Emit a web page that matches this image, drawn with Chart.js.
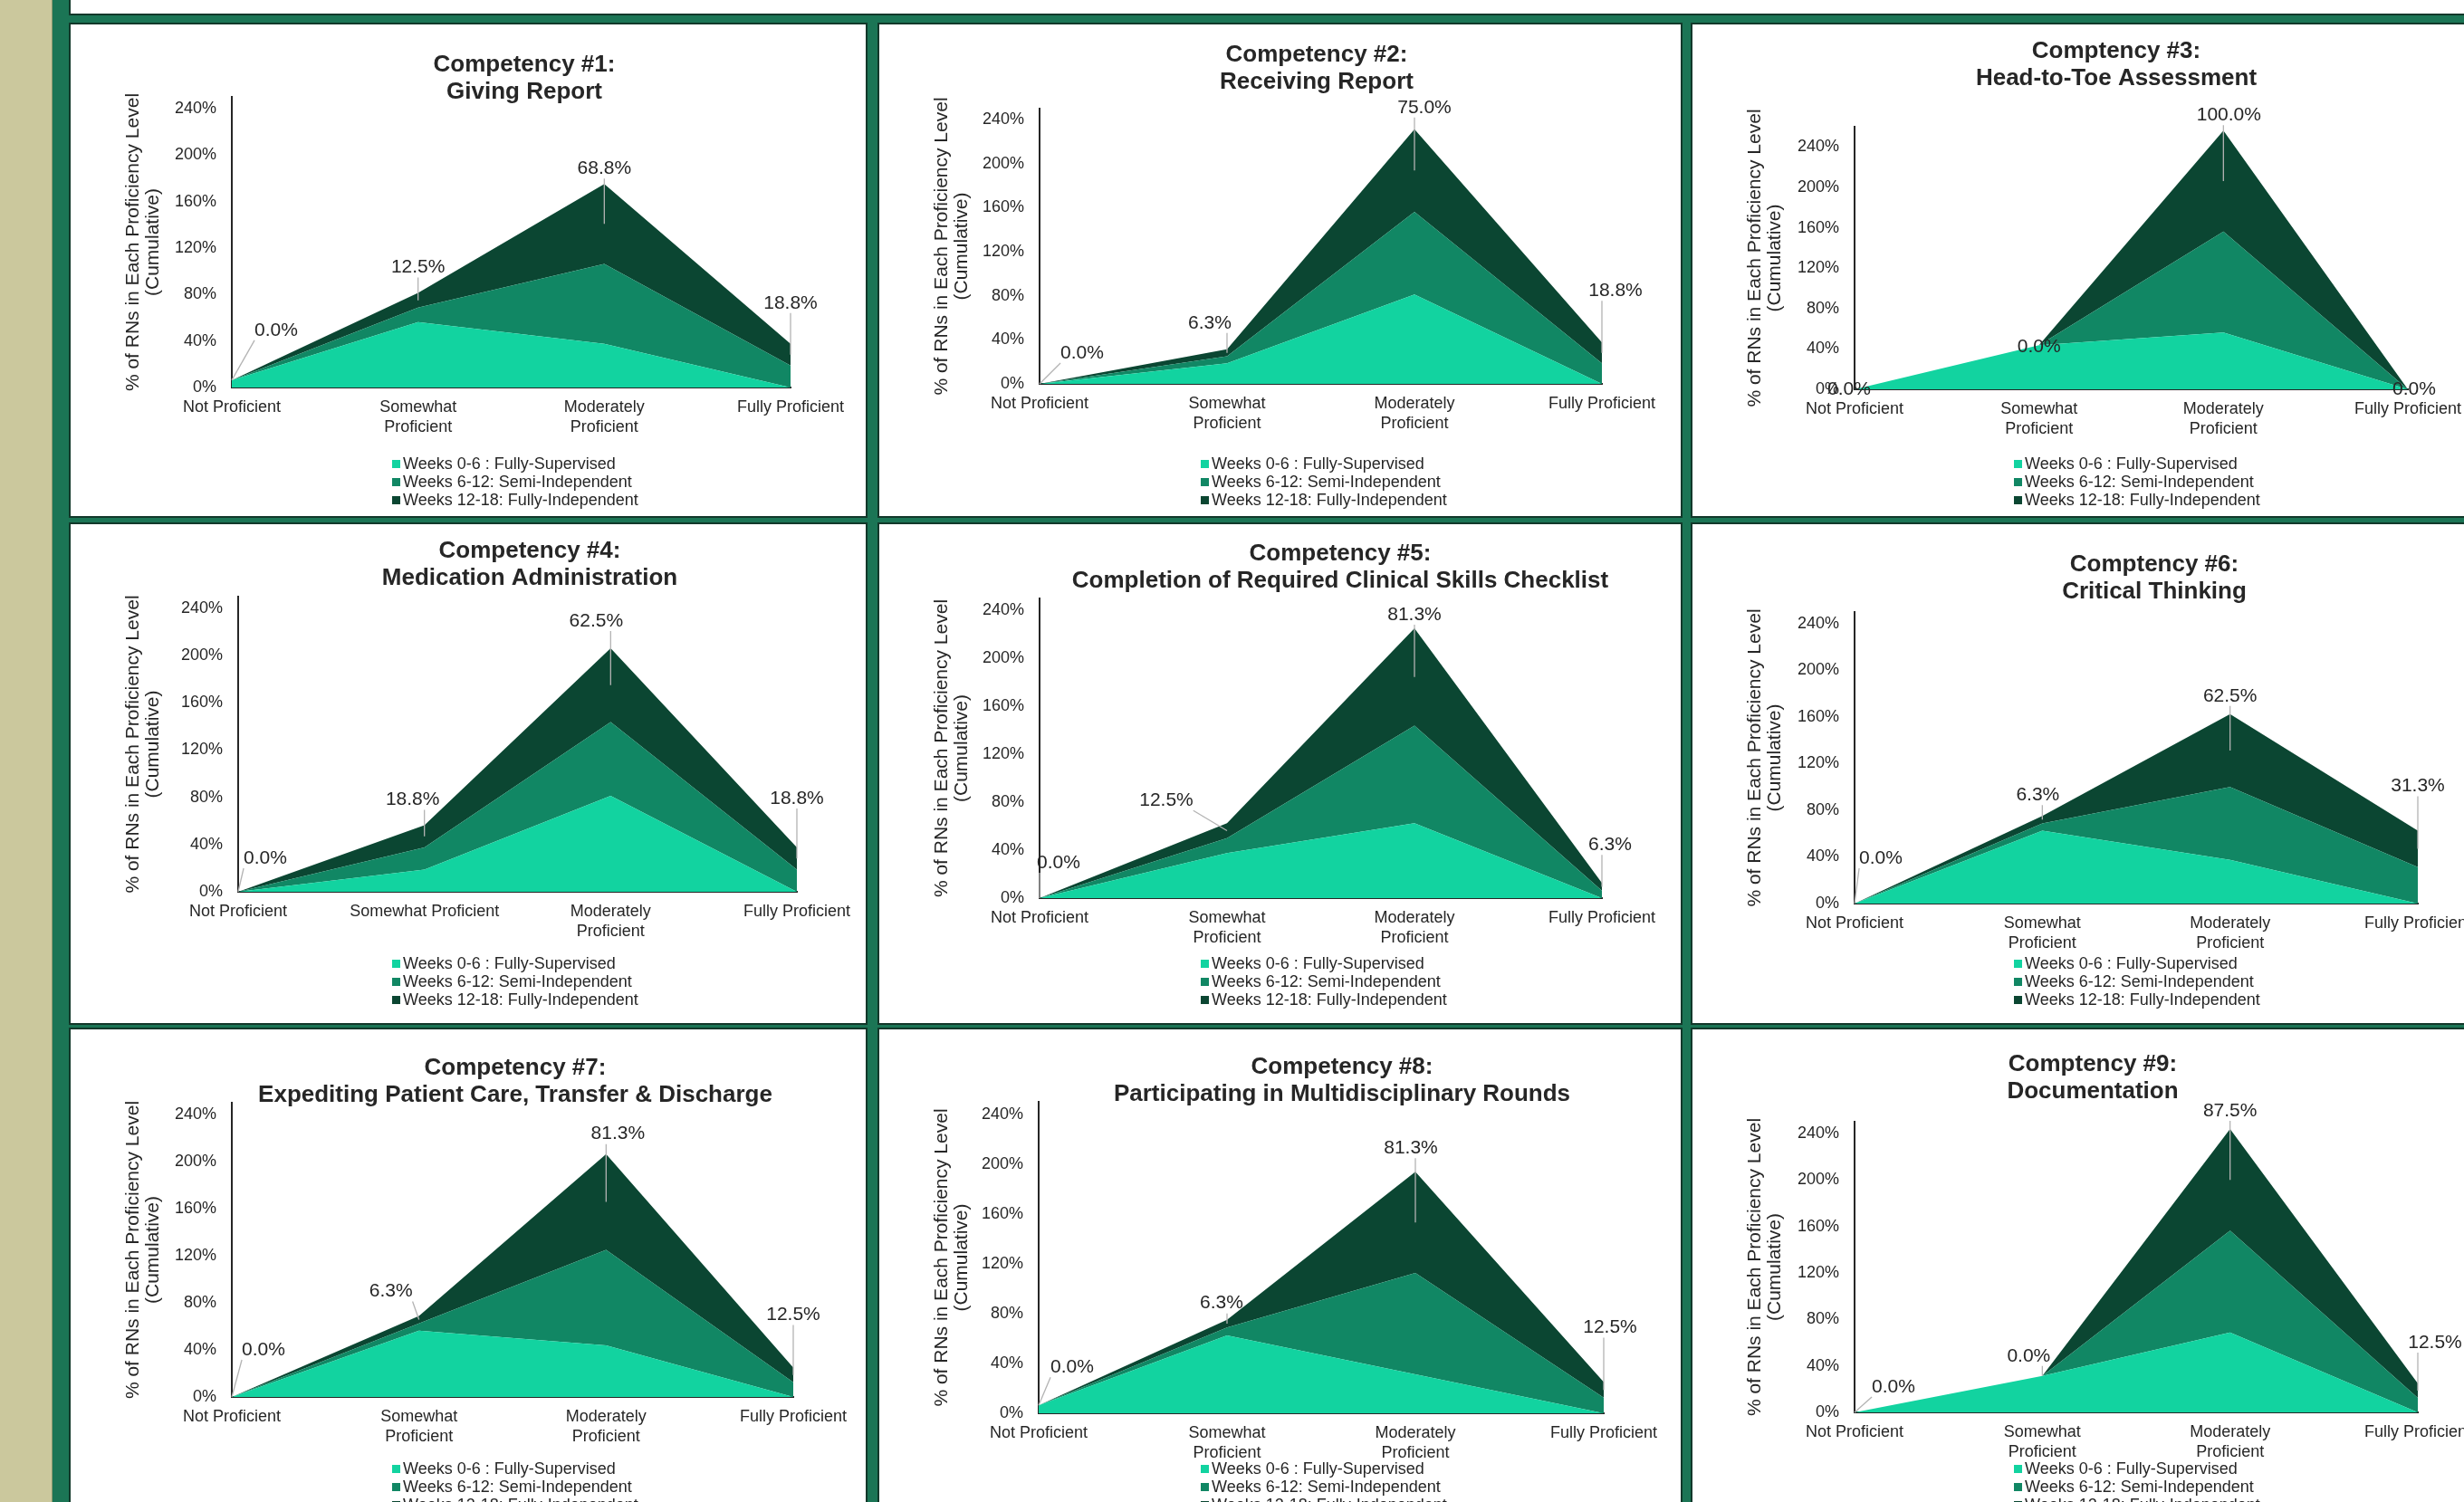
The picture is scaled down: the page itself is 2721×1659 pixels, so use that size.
<!DOCTYPE html>
<html lang="en">
<head>
<meta charset="UTF-8">
<title>Competency Proficiency Levels</title>
<script src="https://cdn.jsdelivr.net/npm/chart.js@4.4.1/dist/chart.umd.min.js"></script>
<style>
  html, body { margin: 0; padding: 0; }
  body {
    width: 2721px; height: 1659px; overflow: hidden; position: relative;
    background: #1b7555; font-family: "Liberation Sans", Arial, sans-serif;
  }
  #olive { position: absolute; left: 0; top: 0; width: 57px; height: 1659px; background: #cbc89d; border-right: 1px solid #8f9a70; }
  .panel { position: absolute; background: #fff; box-shadow: 0 0 0 2px #12382a; overflow: hidden; }
  .panel canvas { position: absolute; left: 0; top: 0; }
  .legend { position: absolute; left: 355px; top: 475px; font-size: 18px; line-height: 20px; color: #262626; white-space: nowrap; }
  .legend .sw { display: inline-block; width: 9px; height: 9px; margin-right: 3px; vertical-align: 1px; }
</style>
</head>
<body>
<div id="olive"></div>
<div class="panel" style="left:78px; top:-20px; width:2700px; height:35px;"></div>

<script>
// categories (x axis)
var categories = ['Not Proficient', ['Somewhat', 'Proficient'], ['Moderately', 'Proficient'], 'Fully Proficient'];
var categoriesC4 = ['Not Proficient', 'Somewhat Proficient', ['Moderately', 'Proficient'], 'Fully Proficient'];
var yTicks = [0, 40, 80, 120, 160, 200, 240];

var seriesNames = ['Weeks 0-6 : Fully-Supervised', 'Weeks 6-12: Semi-Independent', 'Weeks 12-18: Fully-Independent'];
var seriesColors = ['#12d3a0', '#118764', '#0b4632'];

var titles = [
    ['Competency #1:', 'Giving Report'],
    ['Competency #2:', 'Receiving Report'],
    ['Comptency #3:', 'Head-to-Toe Assessment'],
    ['Competency #4:', 'Medication Administration'],
    ['Competency #5:', 'Completion of Required Clinical Skills Checklist'],
    ['Comptency #6:', 'Critical Thinking'],
    ['Competency #7:', 'Expediting Patient Care, Transfer & Discharge'],
    ['Competency #8:', 'Participating in Multidisciplinary Rounds'],
    ['Comptency #9:', 'Documentation']
];

// % of RNs at each proficiency level, one row per competency
var weeks0to6 = [
    [6.3, 56.3, 37.5, 0],
    [0, 18.8, 81.3, 0],
    [0, 43.8, 56.3, 0],
    [0, 18.8, 81.3, 0],
    [0, 37.5, 62.5, 0],
    [0, 62.5, 37.5, 0],
    [0, 56.3, 43.8, 0],
    [6.3, 62.5, 31.3, 0],
    [0, 31.3, 68.8, 0]
];
var weeks6to12 = [
    [0, 12.5, 68.8, 18.8],
    [0, 6.3, 75.0, 18.8],
    [0, 0, 100.0, 0],
    [0, 18.8, 62.5, 18.8],
    [0, 12.5, 81.3, 6.3],
    [0, 6.3, 62.5, 31.3],
    [0, 6.3, 81.3, 12.5],
    [0, 6.3, 81.3, 12.5],
    [0, 0, 87.5, 12.5]
];
var weeks12to18 = [
    [0, 12.5, 68.8, 18.8],
    [0, 6.3, 75.0, 18.8],
    [0, 0, 100.0, 0],
    [0, 18.8, 62.5, 18.8],
    [0, 12.5, 81.3, 6.3],
    [0, 6.3, 62.5, 31.3],
    [0, 6.3, 81.3, 12.5],
    [0, 6.3, 81.3, 12.5],
    [0, 0, 87.5, 12.5]
];

// page layout: panel boxes [x, y, w, h]
var panelBoxes = [
    [78, 27, 878, 543], [971, 27, 885, 543], [1869, 27, 885, 543],
    [78, 579, 878, 551], [971, 579, 885, 551], [1869, 579, 885, 551],
    [78, 1137, 878, 551], [971, 1137, 885, 551], [1869, 1137, 885, 551]
];
// plot area inside each panel [left, right, top, bottom, yMax]
var plotFrames = [
    [178, 795, 80, 401, 250], [177, 798, 93, 397, 250], [179, 790, 113, 403, 260],
    [185, 802, 80, 406, 250], [177, 798, 82, 413, 250], [179, 801, 97, 419, 250],
    [178, 798, 81, 406, 250], [176, 800, 80, 424, 250], [179, 801, 102, 423, 250]
];
// title centre x, first line centre y
var titlePos = [
    [501, 45], [483, 34], [468, 30],
    [507, 30], [509, 33], [510, 45],
    [491, 43], [511, 42], [442, 39]
];
// data label offsets from top of stack
var labelOffsets = [
    [[49, -55], [0, -28], [0, -17], [0, -45]],
    [[47, -34], [-19, -29], [11, -24], [15, -57]],
    [[-6, 0], [0, 2], [6, -17], [7, 0]],
    [[30, -37], [-13, -28], [-16, -30], [0, -54]],
    [[21, -39], [-67, -25], [0, -15], [9, -42]],
    [[29, -50], [-5, -23], [0, -20], [0, -49]],
    [[35, -52], [-31, -27], [13, -22], [0, -58]],
    [[37, -42], [-6, -18], [-5, -26], [7, -60]],
    [[43, -28], [-15, -22], [0, -20], [19, -45]]
];

Chart.defaults.font.family = '"Liberation Sans", Arial, sans-serif';
Chart.defaults.color = '#262626';

// move the title to where it sits in the slide
var titleShift = {
    id: 'titleShift',
    afterLayout: function (chart, args, opts) {
        var tb = chart.titleBlock;
        if (!tb) return;
        var w = tb.right - tb.left;
        tb.left = opts.x - w / 2;
        tb.right = opts.x + w / 2;
    }
};

// value labels of the top series, with leader lines
var valueLabels = {
    id: 'valueLabels',
    afterDatasetsDraw: function (chart, args, opts) {
        var ctx = chart.ctx;
        var topMeta = chart.getDatasetMeta(2);
        var midMeta = chart.getDatasetMeta(1);
        var values = chart.data.datasets[2].data;
        ctx.save();
        ctx.font = '21px "Liberation Sans", Arial, sans-serif';
        ctx.textAlign = 'center';
        ctx.textBaseline = 'middle';
        topMeta.data.forEach(function (pt, i) {
            var off = opts.offsets[i];
            var lx = pt.x + off[0], ly = pt.y + off[1];
            var text = values[i].toFixed(1) + '%';
            var w = ctx.measureText(text).width;
            var ty = (pt.y + midMeta.data[i].y) / 2;
            if (ty > ly + 20) {
                var sx = Math.min(Math.max(pt.x, lx - w / 2), lx + w / 2);
                ctx.strokeStyle = '#b3b3b3';
                ctx.lineWidth = 1.3;
                ctx.beginPath();
                ctx.moveTo(sx, ly + 11);
                ctx.lineTo(pt.x, ty);
                ctx.stroke();
            }
            ctx.fillStyle = '#262626';
            ctx.fillText(text, lx, ly);
        });
        ctx.restore();
    }
};

panelBoxes.forEach(function (box, i) {
    var panel = document.createElement('div');
    panel.className = 'panel';
    panel.style.left = box[0] + 'px';
    panel.style.top = box[1] + 'px';
    panel.style.width = box[2] + 'px';
    panel.style.height = box[3] + 'px';
    document.body.appendChild(panel);

    var canvas = document.createElement('canvas');
    canvas.width = box[2];
    canvas.height = box[3];
    panel.appendChild(canvas);

    var f = plotFrames[i];
    var tp = titlePos[i];
    var series = [weeks0to6[i], weeks6to12[i], weeks12to18[i]];

    new Chart(canvas, {
        type: 'line',
        data: {
            labels: i === 3 ? categoriesC4 : categories,
            datasets: series.map(function (d, k) {
                return {
                    label: seriesNames[k],
                    data: d,
                    backgroundColor: seriesColors[k],
                    borderColor: 'rgba(0,0,0,0)',
                    borderWidth: 1,
                    fill: k === 0 ? 'origin' : '-1',
                    pointRadius: 0,
                    tension: 0
                };
            })
        },
        options: {
            responsive: false,
            animation: false,
            layout: { padding: { left: 0, right: box[2] - f[1], top: 0, bottom: 0 } },
            plugins: {
                legend: { display: false },
                tooltip: { enabled: false },
                title: {
                    display: true,
                    fullSize: false,
                    text: titles[i],
                    color: '#262626',
                    font: { size: 26, weight: 'bold', lineHeight: 1.135 },
                    padding: { top: tp[1] - 14.75, bottom: f[2] - (tp[1] + 29.5 + 14.75) }
                },
                titleShift: { x: tp[0] },
                valueLabels: { offsets: labelOffsets[i] }
            },
            scales: {
                x: {
                    grid: { display: false, drawTicks: false },
                    border: { display: true, color: '#262626', width: 2 },
                    ticks: { autoSkip: false, maxRotation: 0, padding: 12, font: { size: 18, lineHeight: 1.17 } },
                    afterFit: function (s) { s.height = box[3] - f[3]; }
                },
                y: {
                    stacked: true,
                    min: 0,
                    max: f[4],
                    grid: { display: false, drawTicks: false },
                    border: { display: true, color: '#262626', width: 2 },
                    ticks: { padding: 17, font: { size: 18 }, callback: function (v) { return v + '%'; } },
                    afterBuildTicks: function (s) { s.ticks = yTicks.map(function (v) { return { value: v }; }); },
                    afterFit: function (s) { s.width = f[0]; },
                    title: {
                        display: true,
                        text: ['% of RNs in Each Proficiency Level', '(Cumulative)'],
                        font: { size: 21, lineHeight: 1.05 },
                        padding: { top: 58, bottom: 0 }
                    }
                }
            }
        },
        plugins: [titleShift, valueLabels]
    });

    var legend = document.createElement('div');
    legend.className = 'legend';
    seriesNames.forEach(function (name, k) {
        var row = document.createElement('div');
        var sw = document.createElement('span');
        sw.className = 'sw';
        sw.style.background = seriesColors[k];
        row.appendChild(sw);
        row.appendChild(document.createTextNode(name));
        legend.appendChild(row);
    });
    panel.appendChild(legend);
});
</script>
</body>
</html>
